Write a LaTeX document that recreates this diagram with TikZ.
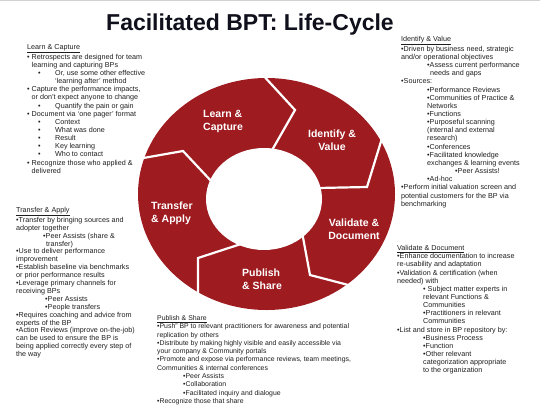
\documentclass[tikz,border=0pt]{standalone}
\usepackage{fontspec}
\setmainfont{Liberation Sans}
\definecolor{ringred}{RGB}{158,27,32}
\definecolor{txt}{RGB}{30,30,30}
\definecolor{ttl}{RGB}{16,16,28}
\tikzset{
  block/.style={anchor=north west, align=left, inner sep=0pt, text=txt,
     font=\fontsize{7.2}{8.15}\selectfont},
  seglabel/.style={align=left, inner sep=0pt, text=white,
     font=\bfseries\fontsize{10.5}{13}\selectfont},
  sep/.style={white, line width=2.2pt, line join=miter}
}
\begin{document}
\begin{tikzpicture}[x=1pt,y=-1pt]
\useasboundingbox (0,0) rectangle (540,407);
\draw[gray!35, line width=0.8pt] (0,0.6) -- (540,0.6);

% title
\node[anchor=base, inner sep=0pt, text=ttl, font=\bfseries\fontsize{23}{26}\selectfont] (title) at (250,30) {Facilitated BPT: Life-Cycle};

% ring
\fill[ringred] (266.5,194) ellipse [x radius=128.5pt, y radius=116pt];
\fill[white] (264,199) ellipse [x radius=58pt, y radius=51pt];
\draw[sep] (261,73) -- (295,110) -- (271,152);
\draw[sep] (383,135) -- (367,187) -- (318,188);
\draw[sep] (302,232) -- (310,275) -- (356,287);
\draw[sep] (241,244) -- (198,258) -- (198,308);
\draw[sep] (132,160) -- (183,151) -- (213,183);

% segment labels
\node[seglabel, anchor=west] (lcl) at (203,121.5) {Learn \&\\Capture};
\node[seglabel, align=center] (ivl) at (332,140.5) {Identify \&\\Value};
\node[seglabel, align=center] (vdl) at (354,229.5) {Validate \&\\Document};
\node[seglabel, anchor=west] (psl) at (242,279) {Publish\\\& Share};
\node[seglabel, anchor=west] (tal) at (151,213.5) {Transfer\\\& Apply};

% text blocks
\node[block] (lc) at (27,44.2) {\underline{Learn \& Capture}\\
• Retrospects are designed for team\\
\hspace*{4.5pt}learning and capturing BPs\\
\hspace*{11pt}\makebox[17pt][l]{•}Or, use some other effective\\
\hspace*{28pt}‘learning after’ method\\
• Capture the performance impacts,\\
\hspace*{4.5pt}or don’t expect anyone to change\\
\hspace*{11pt}\makebox[17pt][l]{•}Quantify the pain or gain\\
• Document via ‘one pager’ format\\
\hspace*{11pt}\makebox[17pt][l]{•}Context\\
\hspace*{11pt}\makebox[17pt][l]{•}What was done\\
\hspace*{11pt}\makebox[17pt][l]{•}Result\\
\hspace*{11pt}\makebox[17pt][l]{•}Key learning\\
\hspace*{11pt}\makebox[17pt][l]{•}Who to contact\\
• Recognize those who applied \&\\
\hspace*{4.5pt}delivered};

\node[block] (iv) at (401,36.2) {\underline{Identify \& Value}\\
•Driven by business need, strategic\\
and/or operational objectives\\
\hspace*{26pt}•Assess current performance\\
\hspace*{29pt}needs and gaps\\
•Sources:\\
\hspace*{26pt}•Performance Reviews\\
\hspace*{26pt}•Communities of Practice \&\\
\hspace*{26pt}Networks\\
\hspace*{26pt}•Functions\\
\hspace*{26pt}•Purposeful scanning\\
\hspace*{26pt}(internal and external\\
\hspace*{26pt}research)\\
\hspace*{26pt}•Conferences\\
\hspace*{26pt}•Facilitated knowledge\\
\hspace*{26pt}exchanges \& learning events\\
\hspace*{54pt}•Peer Assists!\\
\hspace*{26pt}•Ad-hoc\\
•Perform initial valuation screen and\\
potential customers for the BP via\\
benchmarking};

\node[block, font=\fontsize{7.2}{7.9}\selectfont] (ta) at (16,207.2) {\underline{Transfer \& Apply}\\
•Transfer by bringing sources and\\
adopter together\\
\hspace*{27pt}•Peer Assists (share \&\\
\hspace*{30pt}transfer)\\
•Use to deliver performance\\
improvement\\
•Establish baseline via benchmarks\\
or prior performance results\\
•Leverage primary channels for\\
receiving BPs\\
\hspace*{29pt}•Peer Assists\\
\hspace*{29pt}•People transfers\\
•Requires coaching and advice from\\
experts of the BP\\
•Action Reviews (improve on-the-job)\\
can be used to ensure the BP is\\
being applied correctly every step of\\
the way};

\node[block, font=\fontsize{6.9}{8.3}\selectfont] (ps) at (157,315.2) {\underline{Publish \& Share}\\
•Push” BP to relevant practitioners for awareness and potential\\
replication by others\\
•Distribute by making highly visible and easily accessible via\\
your company \& Community portals\\
•Promote and expose via performance reviews, team meetings,\\
Communities \& internal conferences\\
\hspace*{26pt}•Peer Assists\\
\hspace*{26pt}•Collaboration\\
\hspace*{26pt}•Facilitated inquiry and dialogue\\
•Recognize those that share};

\node[block] (vd) at (397,245.2) {\underline{Validate \& Document}\\
•Enhance documentation to increase\\
re-usability and adaptation\\
•Validation \& certification (when\\
needed) with\\
\hspace*{26pt}• Subject matter experts in\\
\hspace*{26pt}relevant Functions \&\\
\hspace*{26pt}Communities\\
\hspace*{26pt}•Practitioners in relevant\\
\hspace*{26pt}Communities\\
•List and store in BP repository by:\\
\hspace*{26pt}•Business Process\\
\hspace*{26pt}•Function\\
\hspace*{26pt}•Other relevant\\
\hspace*{26pt}categorization appropriate\\
\hspace*{26pt}to the organization};
\end{tikzpicture}
\end{document}
